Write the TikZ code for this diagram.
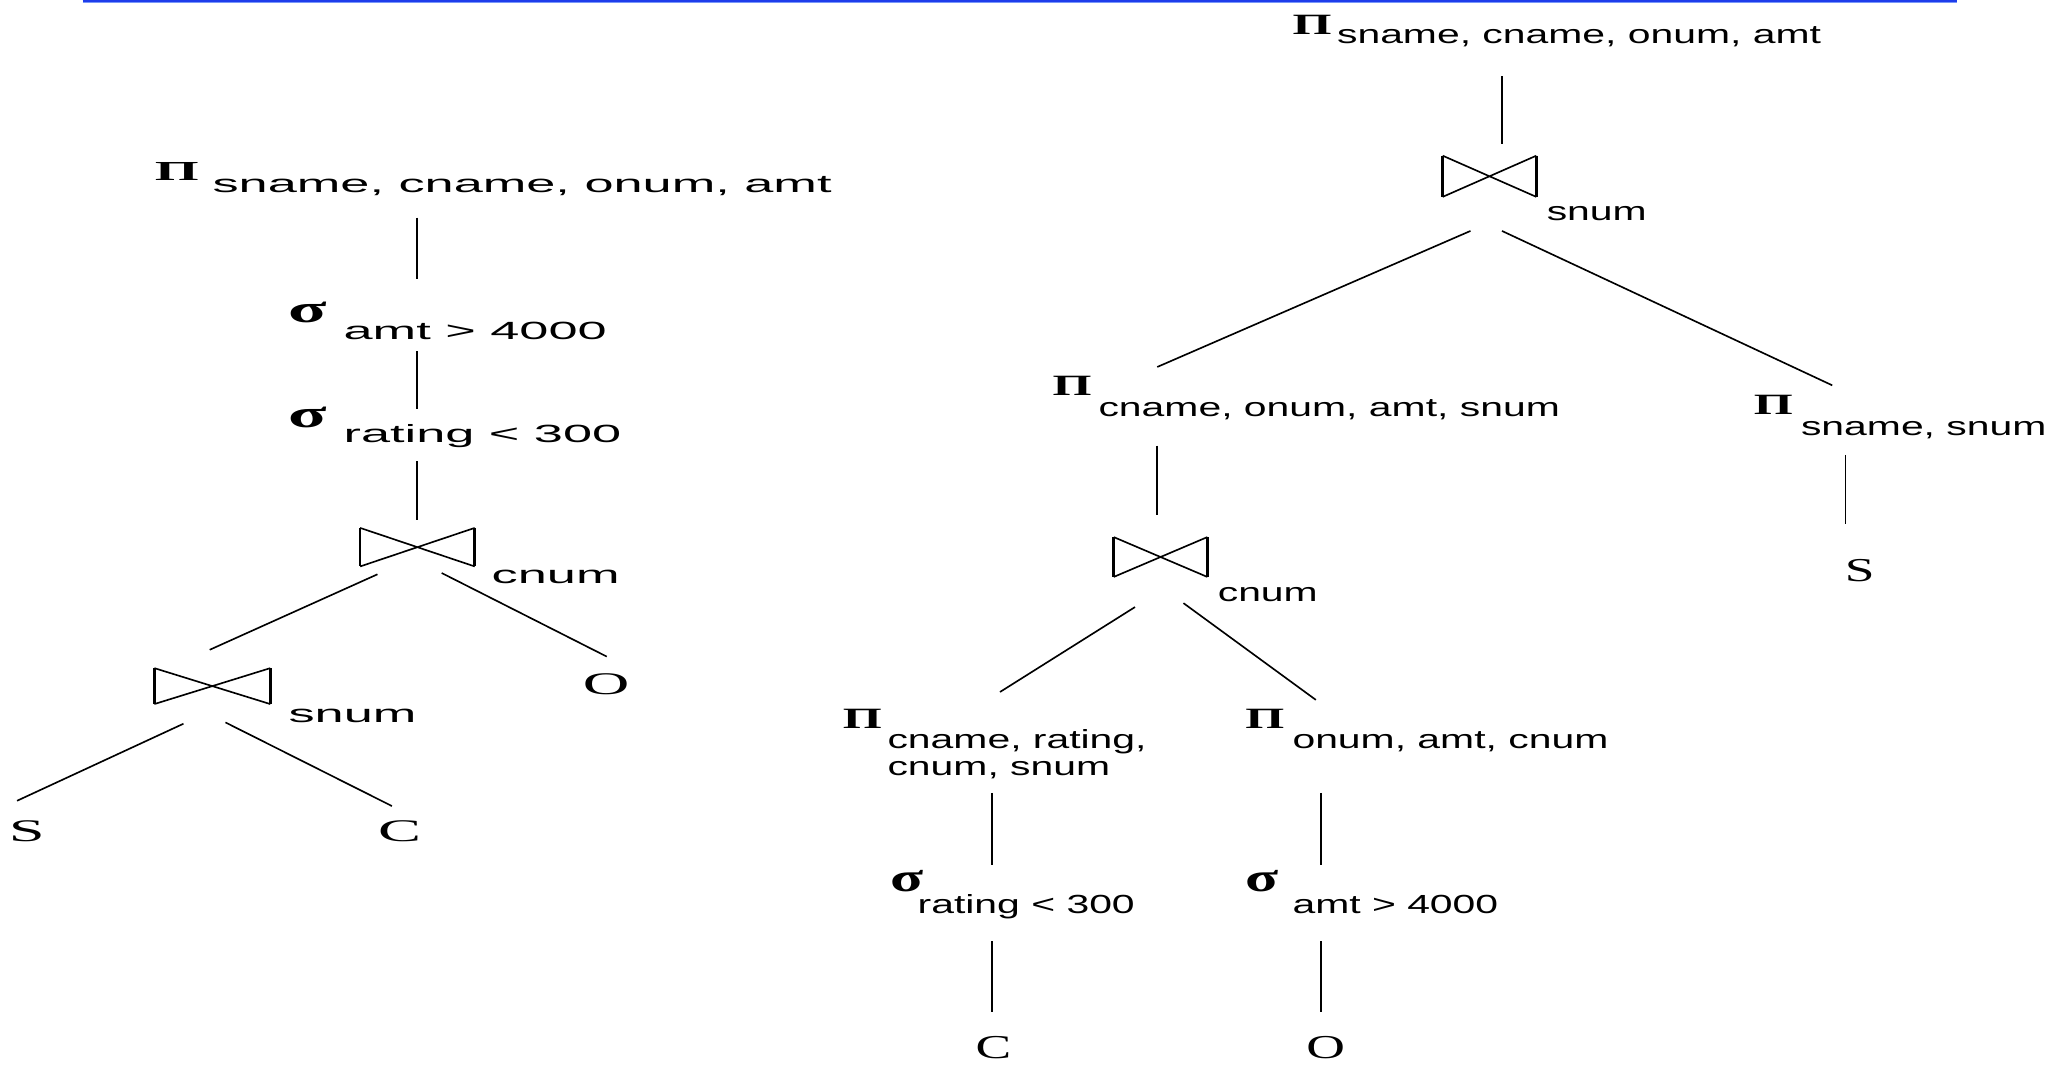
\documentclass[tikz,border=0pt]{standalone}
\usepackage{fontspec}
\usetikzlibrary{calc}
\setmainfont{Liberation Sans}
% widened faces for the attribute lists and relation names
\newfontfamily\lsubf{Liberation Sans}[FakeStretch=2.1]
\newfontfamily\rsubf{Liberation Sans}[FakeStretch=1.56]
\newfontfamily\lrelf{Liberation Serif}[FakeStretch=2.05]
\newfontfamily\rrelf{Liberation Serif}[FakeStretch=1.6]
\newfontfamily\grkf{Liberation Serif}

\tikzset{
  edge/.style={line width=1.25pt, black},
  joinbar/.style={line width=2pt, black},
  lsub/.style={anchor=base west, inner sep=0pt, font=\lsubf\fontsize{19}{21}\selectfont},
  rsub/.style={anchor=base west, inner sep=0pt, align=left, font=\rsubf\fontsize{20}{21}\selectfont},
  lgk/.style={anchor=base west, inner sep=0pt, font=\grkf\bfseries\fontsize{21}{21}\selectfont},
  lsg/.style={anchor=base west, inner sep=0pt, font=\grkf\bfseries\fontsize{30}{30}\selectfont},
  rgk/.style={anchor=base west, inner sep=0pt, font=\grkf\bfseries\fontsize{22.5}{22.5}\selectfont},
  rsg/.style={anchor=base west, inner sep=0pt, font=\grkf\bfseries\fontsize{31}{31}\selectfont},
  lrel/.style={anchor=base, inner sep=0pt, font=\lrelf\fontsize{24}{24}\selectfont},
  rrel/.style={anchor=base, inner sep=0pt, font=\rrelf\fontsize{25.5}{25.5}\selectfont},
  joinbox/.style 2 args={rectangle, inner sep=0pt, minimum width=#1, minimum height=#2},
}
\newcommand\drawjoin[1]{%
  \draw[edge] (#1.north west) -- (#1.south east) (#1.south west) -- (#1.north east);
  \draw[joinbar] (#1.north west) -- (#1.south west) (#1.north east) -- (#1.south east);}
\newcommand\LP{\scalebox{2.05}[1]{Π}}
\newcommand\LS{\scalebox{1.8}[1]{σ}}
\newcommand\RP{\scalebox{1.7}[1]{Π}}
\newcommand\RS{\scalebox{1.5}[1]{σ}}

\begin{document}
\begin{tikzpicture}[x=1pt,y=-1pt]
\useasboundingbox (0,0) rectangle (1568,814);

% rule along the top edge
\draw[line width=1.3pt, color={rgb,255:red,30;green,60;blue,235}] (63,0.7) -- (1493,0.7);
\draw[line width=1pt, color={rgb,255:red,120;green,150;blue,250}] (63,2.0) -- (1493,2.0);

% ---------------- left plan ----------------
\node[lgk]  (lpG)  at (118,138) {\LP};
\node[lsub] (lpT)  at (162,147) {sname, cname, onum, amt};
\node[lsg]  (ls1G) at (220,246) {\LS};
\node[lsub] (ls1T) at (262,259) {amt > 4000};
\node[lsg]  (ls2G) at (220,326) {\LS};
\node[lsub] (ls2T) at (262,338) {rating < 300};
\node[joinbox={87pt}{29pt}] (lj1) at (318.5,417.5) {};
\node[lsub] (lj1T) at (375,445) {cnum};
\node[joinbox={88pt}{27pt}] (lj2) at (162,523.5) {};
\node[lsub] (lj2T) at (220,551) {snum};
\node[lrel] (lS) at (20.5,642) {S};
\node[lrel] (lC) at (305,642) {C};
\node[lrel] (lO) at (462.5,530) {O};
\drawjoin{lj1}
\drawjoin{lj2}

\draw[edge] ($(lpT.base west)+(156,19)$) -- ($(ls1G.base west)+(98,-33)$);
\draw[edge] ($(ls1T.base west)+(56,9)$) -- ($(ls2G.base west)+(98,-14)$);
\draw[edge] ($(ls2T.base west)+(56,14)$) -- ($(lj1.north)+(-0.5,-6)$);
\draw[edge] ($(lj1.south)+(-30.5,6)$) -- ($(lj2.north)+(-2,-14)$);
\draw[edge] ($(lj1.south)+(18.5,5)$) -- ($(lO.base)+(0.5,-29)$);
\draw[edge] ($(lj2.south)+(-22,15)$) -- ($(lS.base)+(-7.5,-31)$);
\draw[edge] ($(lj2.south)+(10,14)$) -- ($(lC.base)+(-6,-27)$);

% ---------------- right plan ----------------
\node[rgk]  (rpG)  at (986,26)  {\RP};
\node[rsub] (rpT)  at (1020,33) {sname, cname, onum, amt};
\node[joinbox={71pt}{31pt}] (rj1) at (1136.5,134.5) {};
\node[rsub] (rj1T) at (1180,168) {snum};
\node[rgk]  (rp2G) at (803,302) {\RP};
\node[rsub] (rp2T) at (838,318) {cname, onum, amt, snum};
\node[rgk]  (rp3G) at (1338,316) {\RP};
\node[rsub] (rp3T) at (1374,332) {sname, snum};
\node[rrel] (rS)   at (1419,444) {S};
\node[joinbox={71pt}{30pt}] (rj2) at (885.5,425) {};
\node[rsub] (rj2T) at (929,459) {cnum};
\node[rgk]  (rp4G) at (643,556) {\RP};
% two-line list: the base anchor sits on the last line
\node[rsub] (rp4T) at (677,592) {cname, rating,\\cnum, snum};
\node[rgk]  (rp5G) at (950,556) {\RP};
\node[rsub] (rp5T) at (986,571) {onum, amt, cnum};
\node[rsg]  (rs1G) at (679,680) {\RS};
\node[rsub] (rs1T) at (700,697) {rating < 300};
\node[rsg]  (rs2G) at (950,680) {\RS};
\node[rsub] (rs2T) at (986,697) {amt > 4000};
\node[rrel] (rC) at (758,808) {C};
\node[rrel] (rO) at (1011.5,808) {O};
\drawjoin{rj1}
\drawjoin{rj2}

\draw[edge] ($(rpT.base west)+(126,25)$) -- ($(rj1.north)+(9.5,-9)$);
\draw[edge] ($(rj1.south)+(-14.5,26)$) -- ($(rp2G.base west)+(80,-22)$);
\draw[edge] ($(rj1.south)+(9.5,26)$) -- ($(rp3G.base west)+(60,-22)$);
\draw[edge] ($(rp2T.base west)+(45,22)$) -- ($(rj2.north)+(-2.5,-17)$);
\draw[edge] ($(rp3T.base west)+(34,15)$) -- ($(rS.base)+(-11,-44)$);
\draw[edge] ($(rj2.south)+(-19.5,23)$) -- ($(rp4G.base west)+(120,-28)$);
\draw[edge] ($(rj2.south)+(17.5,20)$) -- ($(rp5G.base west)+(54,-22)$);
\draw[edge] ($(rp4T.base west)+(80,13)$) -- ($(rs1G.base west)+(78,-20)$);
\draw[edge] ($(rp5T.base west)+(22,34)$) -- ($(rs2G.base west)+(58,-20)$);
\draw[edge] ($(rs1T.base west)+(57,21)$) -- ($(rC.base)+(-1,-36)$);
\draw[edge] ($(rs2T.base west)+(22,21)$) -- ($(rO.base)+(-3.5,-36)$);
\end{tikzpicture}
\end{document}
